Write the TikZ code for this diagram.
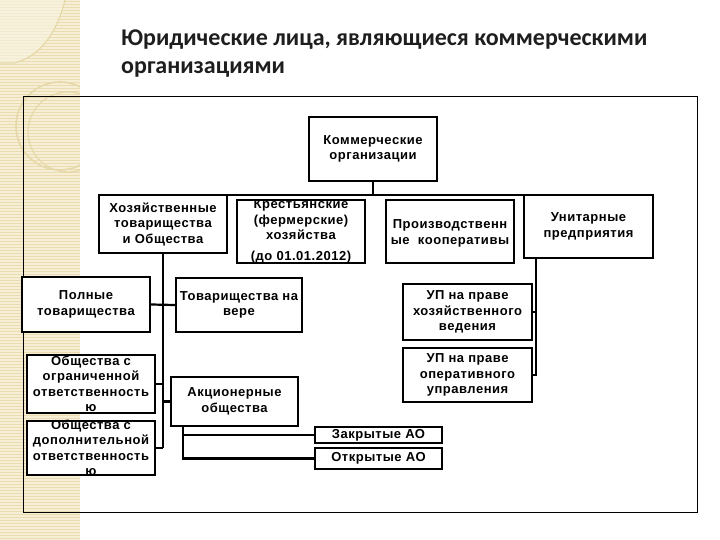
\documentclass[tikz,border=0pt]{standalone}
\usepackage{fontspec}
\setmainfont{Liberation Sans}
\newfontfamily\titlefont{Carlito}
\newfontfamily\boxfont[LetterSpace=4]{Liberation Sans}
\definecolor{stripbase}{HTML}{F6EFD6}
\definecolor{stripline}{HTML}{EADCB0}
\definecolor{stripdeco}{HTML}{E6D8A8}
\definecolor{striplight}{HTML}{F9F4E2}
\definecolor{titlecol}{HTML}{1E1E1E}
\tikzset{
  box/.style={draw, line width=2.4pt, fill=white, inner sep=0pt},
  txt/.style={font=\boxfont\bfseries\fontsize{13}{15.5}\selectfont, align=center, inner sep=0pt, text=black},
  wire/.style={line width=2.2pt},
  titlestyle/.style={font=\titlefont\bfseries\fontsize{24}{28}\selectfont, text=titlecol, inner sep=0pt},
}
\begin{document}
\begin{tikzpicture}[x=1pt,y=-1pt]
\useasboundingbox (0,0) rectangle (720,540);
% decorative strip
\fill[stripbase] (0,0) rectangle (80,540);
\foreach \yy in {1.5,4.5,...,540} \draw[stripline, line width=0.9pt] (0,\yy) -- (80,\yy);
\begin{scope}
  \clip (0,0) rectangle (80,540);
  \fill[striplight, opacity=0.6] (0,0) -- (65,0) .. controls (55,40) and (35,58) .. (14,63) -- (0,63) -- cycle;
  \draw[stripdeco, line width=1.2pt] (65,0) .. controls (55,40) and (35,58) .. (14,63) -- (0,63);
  \draw[stripdeco, line width=1.6pt] (60,126) circle[radius=44pt];
  \draw[stripdeco, line width=1.2pt] (68,132) circle[radius=40pt];
\end{scope}
% title
\node[titlestyle, anchor=base west] (t1) at (121,46) {Юридические лица, являющиеся коммерческими};
\node[titlestyle, anchor=base west] (t2) at (121,74) {организациями};
% frame
\draw[line width=0.8pt] (23,96) rectangle (697,512);
% connectors
\coordinate (busL) at (162,195);
\coordinate (busR) at (590,195);
\coordinate (trunkEnd) at (163,448);
% boxes
\node[box, minimum width=128pt, minimum height=64pt, label={[txt]center:{Коммерческие\\организации}}] (komm) at (373,149) {};
\node[box, minimum width=128pt, minimum height=58pt, label={[txt]center:{Хозяйственные\\товарищества\\и Общества}}] (hoz) at (163,224) {};
\node[box, minimum width=128pt, minimum height=63pt, label={[txt]center:{Крестьянские\\(фермерские)\\хозяйства\\[5pt](до 01.01.2012)}}] (krest) at (301,231.5) {};
\node[box, minimum width=128pt, minimum height=63pt, label={[txt,yshift=-2pt]center:{Производственн\\ые\ \ кооперативы}}] (proizv) at (450,231.5) {};
\node[box, minimum width=129pt, minimum height=63pt, label={[txt]center:{Унитарные\\предприятия}}] (unit) at (588.5,226.5) {};
\node[box, minimum width=128pt, minimum height=55pt, label={[txt]center:{Полные\\товарищества}}] (poln) at (86,304.5) {};
\node[box, minimum width=126pt, minimum height=54pt, label={[txt]center:{Товарищества на\\вере}}] (tov) at (239,305) {};
\node[box, minimum width=128pt, minimum height=58pt, label={[txt]center:{Общества с\\ограниченной\\ответственность\\ю}}] (ooo) at (91,384) {};
\node[box, minimum width=128pt, minimum height=54pt, label={[txt]center:{Общества с\\дополнительной\\ответственность\\ю}}] (odo) at (91,448) {};
\node[box, minimum width=127pt, minimum height=49pt, label={[txt]center:{Акционерные\\общества}}] (ak) at (234.5,401.5) {};
\node[box, minimum width=127pt, minimum height=16pt, label={[txt]center:{Закрытые АО}}] (zao) at (378.5,435) {};
\node[box, minimum width=127pt, minimum height=21pt, label={[txt]center:{Открытые АО}}] (oao) at (378.5,458.5) {};
\node[box, minimum width=129pt, minimum height=56pt, label={[txt]center:{УП на праве\\хозяйственного\\ведения}}] (upx) at (467.5,312) {};
\node[box, minimum width=129pt, minimum height=54pt, label={[txt]center:{УП на праве\\оперативного\\управления}}] (upo) at (467.5,375) {};
\draw[wire] (busL) -- (busR);
\draw[wire] (komm.south) -- (komm.south |- busL);
\draw[wire] (hoz.south) -- (trunkEnd);
\draw[wire] (poln.east) -- (tov.west);
\draw[wire] (ooo.east) -- (ooo.east -| trunkEnd);
\draw[wire] (odo.east) -- (odo.east -| trunkEnd);
\draw[wire] (ak.west -| trunkEnd) -- (ak.west);
\coordinate (akT) at ([xshift=13pt]ak.south west);
\draw[wire] (akT) |- (zao.west);
\draw[wire] (akT) |- (oao.west);
\coordinate (unT) at ([xshift=13pt]unit.south west);
\draw[wire] (unT) |- (upo.east);
\draw[wire] (upx.east) -- (upx.east -| unT);
\end{tikzpicture}
\end{document}
